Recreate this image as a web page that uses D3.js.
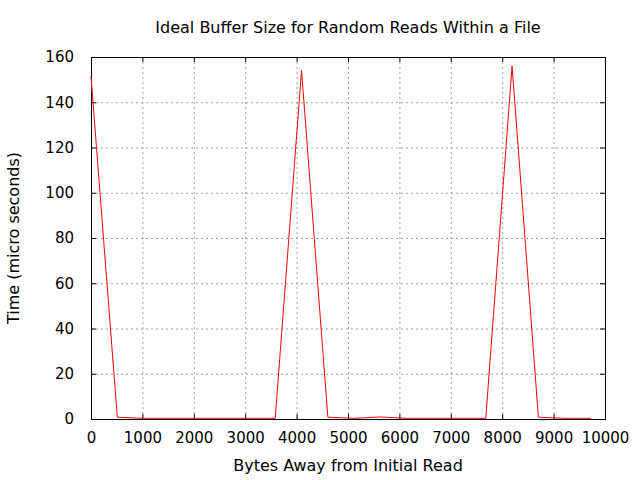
<!DOCTYPE html>
<html>
<head>
<meta charset="utf-8">
<script src="https://cdn.jsdelivr.net/npm/d3@7"></script>
<style>
  html, body { margin: 0; padding: 0; background: #fff; }
  svg text { font-family: "DejaVu Sans", sans-serif; font-size: 16px; fill: #000; }
</style>
</head>
<body>
<svg id="chart"></svg>
<script>
// byte offsets from the initial read, and the time each read took
var offsets = [0, 512, 1024, 1536, 2048, 2560, 3072, 3584, 4096, 4608,
               5120, 5632, 6144, 6656, 7168, 7680, 8192, 8704, 9216, 9728];
var times = [151.5, 0.8, 0.3, 0.3, 0.3, 0.3, 0.3, 0.3, 154, 0.8,
             0.3, 0.9, 0.3, 0.3, 0.3, 0.3, 156, 0.8, 0.3, 0.3];

var xTicks = [0, 1000, 2000, 3000, 4000, 5000, 6000, 7000, 8000, 9000, 10000];
var yTicks = [0, 20, 40, 60, 80, 100, 120, 140, 160];

var svgWidth = 640,
    svgHeight = 480;
var margin = {top: 57, right: 35, bottom: 61, left: 91};
var width = svgWidth - margin.left - margin.right;
var height = svgHeight - margin.top - margin.bottom;

var svg = d3.select('#chart')
    .attr('width', svgWidth)
    .attr('height', svgHeight);

var g = svg.append('g')
    .attr('transform', 'translate(' + margin.left + ', ' + margin.top + ')');

var x = d3.scaleLinear()
    .domain([0, 10000])
    .range([0, width]);
var y = d3.scaleLinear()
    .domain([0, 160])
    .range([height, 0]);

// dotted grid
g.append('g')
    .selectAll('line')
    .data(xTicks.slice(1, -1))
    .enter()
    .append('line')
    .attr('x1', function (d) { return x(d) + 0.5; })
    .attr('x2', function (d) { return x(d) + 0.5; })
    .attr('y1', 0)
    .attr('y2', height)
    .attr('stroke', '#a0a0a0')
    .attr('stroke-dasharray', '2,3');
g.append('g')
    .selectAll('line')
    .data(yTicks.slice(1, -1))
    .enter()
    .append('line')
    .attr('x1', 0)
    .attr('x2', width)
    .attr('y1', function (d) { return y(d) + 0.5; })
    .attr('y2', function (d) { return y(d) + 0.5; })
    .attr('stroke', '#a0a0a0')
    .attr('stroke-dasharray', '2,3');

// axes, ticks pointing inward and mirrored
var fmt = d3.format('d');
var xAxis = g.append('g')
    .attr('transform', 'translate(0, ' + height + ')')
    .call(d3.axisBottom(x).tickValues(xTicks).tickFormat(fmt).tickSize(-5).tickPadding(13).tickSizeOuter(0));
var xTop = g.append('g')
    .call(d3.axisTop(x).tickValues(xTicks).tickSize(-5).tickFormat('').tickSizeOuter(0));
var yAxis = g.append('g')
    .call(d3.axisLeft(y).tickValues(yTicks).tickFormat(fmt).tickSize(-5).tickPadding(17).tickSizeOuter(0));
var yRight = g.append('g')
    .attr('transform', 'translate(' + width + ', 0)')
    .call(d3.axisRight(y).tickValues(yTicks).tickSize(-5).tickFormat('').tickSizeOuter(0));

[xAxis, xTop, yAxis, yRight].forEach(function (a) {
    a.select('.domain').remove();
    a.selectAll('line').attr('stroke', '#000');
    a.selectAll('text')
        .style('font-family', '"DejaVu Sans", sans-serif')
        .style('font-size', '15px')
        .attr('fill', '#000');
});

g.append('rect')
    .attr('x', 0.5)
    .attr('y', 0.5)
    .attr('width', width)
    .attr('height', height)
    .attr('fill', 'none')
    .attr('stroke', '#000');

var line = d3.line()
    .x(function (d, i) { return x(offsets[i]); })
    .y(function (d) { return y(d); });

g.append('path')
    .datum(times)
    .attr('fill', 'none')
    .attr('stroke', '#ff0000')
    .attr('stroke-width', 1)
    .attr('d', line);

// labels
svg.append('text')
    .attr('x', margin.left + width / 2)
    .attr('y', 33)
    .attr('text-anchor', 'middle')
    .text('Ideal Buffer Size for Random Reads Within a File');

svg.append('text')
    .attr('x', margin.left + width / 2)
    .attr('y', 471)
    .attr('text-anchor', 'middle')
    .text('Bytes Away from Initial Read');

svg.append('text')
    .attr('transform', 'translate(19, ' + (margin.top + height / 2) + ') rotate(-90)')
    .attr('text-anchor', 'middle')
    .text('Time (micro seconds)');
</script>
</body>
</html>
